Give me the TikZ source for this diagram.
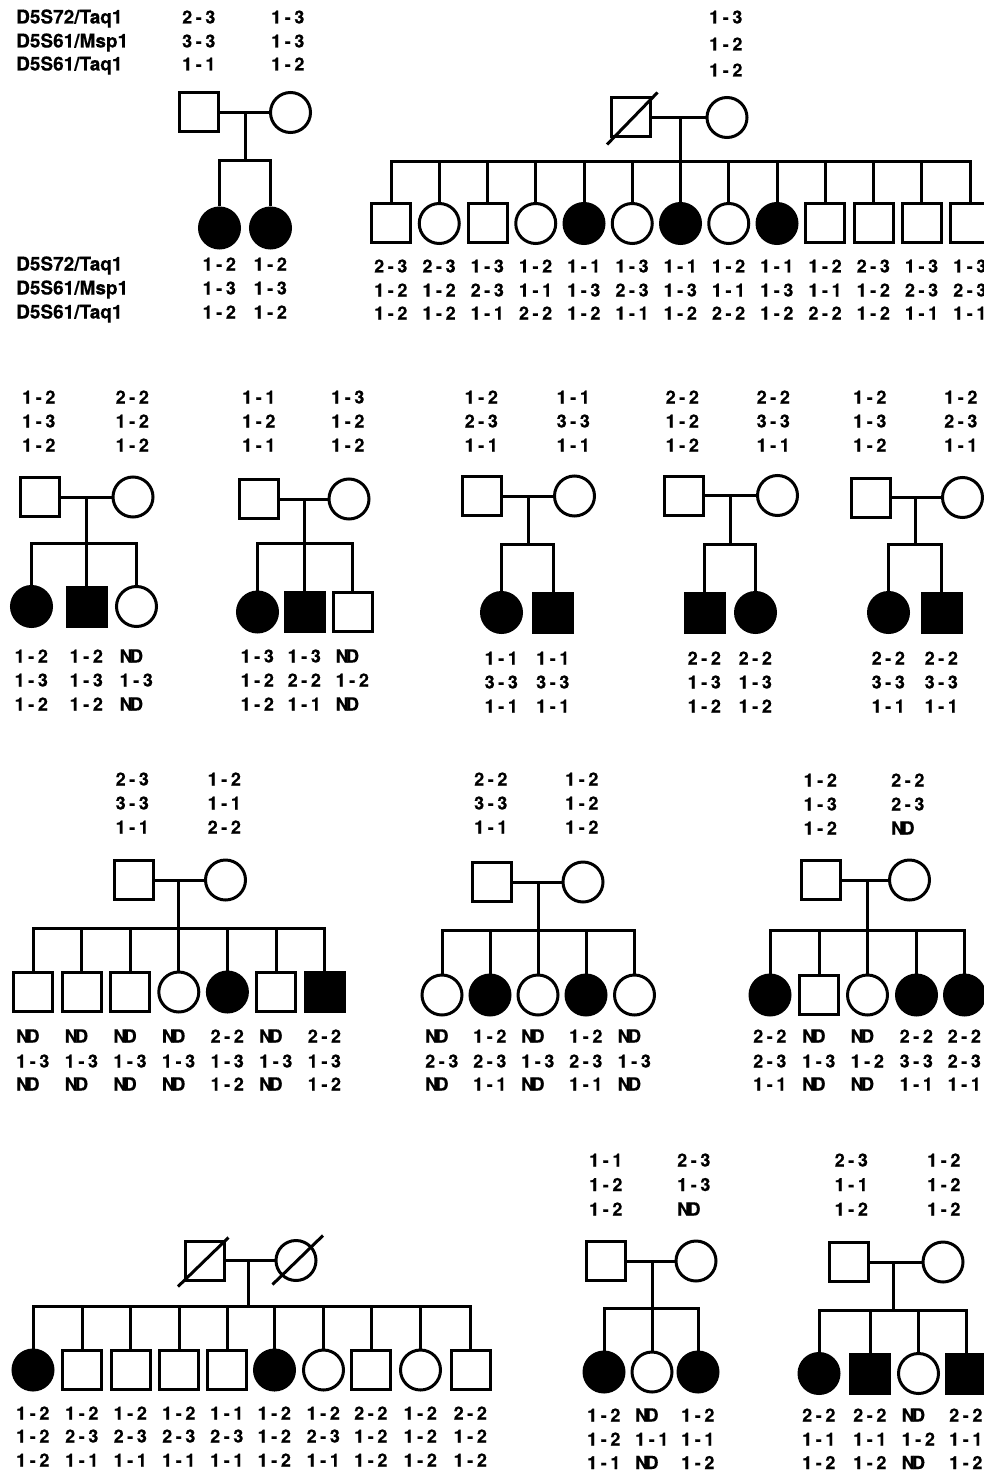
\documentclass[tikz,border=0pt]{standalone}
\usepackage{fontspec}
\setmainfont{TeX Gyre Heros}[BoldFeatures={FakeBold=0.35}]
\usetikzlibrary{calc}
\newcommand\G[2]{#1\hspace{0.2em}-\hspace{0.2em}#2}
\newcommand\ND{N\kern-0.15em D}
\newcommand\lab[8]{%
 \node[lbl] (#1-a) at ({#2-17},{#3+6.5}) {#6};%
 \node[lbl] (#1-b) at ({#2-17},{#4+6.5}) {#7};%
 \node[lbl] (#1-c) at ({#2-17},{#5+6.5}) {#8};}
\begin{document}
\begin{tikzpicture}[x=1pt,y=-1pt,
 ln/.style={line width=3pt},
 sq/.style={rectangle,draw,line width=3pt,minimum size=39pt,inner sep=0pt},
 sqf/.style={sq,fill=black},
 ci/.style={circle,draw,line width=3pt,minimum size=40pt,inner sep=0pt},
 cif/.style={ci,fill=black},
 lbl/.style={anchor=base west,inner sep=0pt,font=\fontsize{18}{20}\selectfont\bfseries},
 mk/.style={anchor=base west,inner sep=0pt,font=\fontsize{19}{21}\selectfont\bfseries}]
\useasboundingbox (0,0) rectangle (984,1471);
\fill[white] (0,0) rectangle (984,1471);
\clip (0,0) rectangle (984,1471);

% marker names
\node[mk] (k1) at (16,23.5) {D5S72/Taq1};
\node[mk] (k2) at (16,47.5) {D5S61/Msp1};
\node[mk] (k3) at (16,70.5) {D5S61/Taq1};
\node[mk] (k4) at (16,270.5) {D5S72/Taq1};
\node[mk] (k5) at (16,294.5) {D5S61/Msp1};
\node[mk] (k6) at (16,318.5) {D5S61/Taq1};

% ---------- TL family
\node[sq] (TLf) at (199,112.5) {};
\node[ci] (TLm) at (290.5,112.5) {};
\draw[ln] (TLf.east) -- (TLm.west);
\lab{TLf}{199}{17}{41}{64}{\G23}{\G33}{\G11}
\lab{TLm}{288}{17}{41}{64}{\G13}{\G13}{\G12}
\coordinate (TLd) at (245,112.5);
\coordinate (TLs) at (245,161);
\draw[ln] (TLd) -- (TLs);
\foreach \x/\t/\a/\b/\c [count=\i] in {219.5/cif/\G12/\G13/\G12, 270.5/cif/\G12/\G13/\G12}{
 \node[\t] (TL\i) at (\x,228) {};
 \draw[ln] (TL\i.north) -- (TL\i.north |- TLs);
 \lab{TL\i}{\x}{264}{288}{312}{\a}{\b}{\c}
}
\draw[ln] (TL1.north) |- (TLs) -| (TL2.north);

% ---------- TR family
\node[sq] (TRf) at (630.5,117.5) {};
\node[ci] (TRm) at (727,117.5) {};
\draw[ln] (TRf.east) -- (TRm.west);
\draw[ln] ([shift={(-2.5,6)}]TRf.south west) -- ([shift={(6,-4)}]TRf.north east);
\lab{TRm}{726}{17}{44}{70}{\G13}{\G12}{\G12}
\foreach \x/\t/\a/\b/\c [count=\i] in {
 391/sq/\G23/\G12/\G12, 439.25/ci/\G23/\G12/\G12, 487.5/sq/\G13/\G23/\G11,
 535.75/ci/\G12/\G11/\G22, 584/cif/\G11/\G13/\G12, 632.25/ci/\G13/\G23/\G11,
 680.5/cif/\G11/\G13/\G12, 728.75/ci/\G12/\G11/\G22, 777/cif/\G11/\G13/\G12,
 825.25/sq/\G12/\G11/\G22, 873.5/sq/\G23/\G12/\G12, 921.75/sq/\G13/\G23/\G11,
 970/sq/\G13/\G23/\G11}{
 \node[\t] (TR\i) at (\x,223.5) {};
 \draw[ln] (TR\i.north) -- (TR\i.north |- 0,162);
 \lab{TR\i}{\x}{266}{290}{313}{\a}{\b}{\c}
}
\coordinate (TRd) at (TR7.north |- TRf.east);
\coordinate (TRs) at (TR7.north |- 0,162);
\draw[ln] (TRd) -- (TRs);
\draw[ln] (TR1.north) |- (TRs) -| (TR13.north);

% ---------- Row 2
% A
\node[sq] (Af) at (39.5,497) {};
\node[ci] (Am) at (133,497) {};
\draw[ln] (Af.east) -- (Am.west);
\lab{Af}{39}{397}{421}{445}{\G12}{\G13}{\G12}
\lab{Am}{132.5}{397}{421}{445}{\G22}{\G12}{\G12}
\foreach \x/\t/\a/\b/\c [count=\i] in {31.5/cif/\G12/\G13/\G12, 86.5/sqf/\G12/\G13/\G12, 136.5/ci/\ND/\G13/\ND}{
 \node[\t] (A\i) at (\x,606.5) {};
 \draw[ln] (A\i.north) -- (A\i.north |- 0,543);
 \lab{A\i}{\x}{656}{680}{704}{\a}{\b}{\c}
}
\coordinate (Ad) at (A2.north |- Af.east);
\coordinate (As) at (A2.north |- 0,543);
\draw[ln] (Ad) -- (As);
\draw[ln] (A1.north) |- (As) -| (A3.north);
% B
\node[sq] (Bf) at (259,499) {};
\node[ci] (Bm) at (349,499) {};
\draw[ln] (Bf.east) -- (Bm.west);
\lab{Bf}{259}{397}{421}{445}{\G11}{\G12}{\G11}
\lab{Bm}{348}{397}{421}{445}{\G13}{\G12}{\G12}
\foreach \x/\t/\a/\b/\c [count=\i] in {257.5/cif/\G13/\G12/\G12, 304.5/sqf/\G13/\G22/\G11, 352.5/sq/\ND/\G12/\ND}{
 \node[\t] (B\i) at (\x,612) {};
 \draw[ln] (B\i.north) -- (B\i.north |- 0,543);
 \lab{B\i}{\x}{656}{680}{704}{\a}{\b}{\c}
}
\coordinate (Bd) at (B2.north |- Bf.east);
\coordinate (Bs) at (B2.north |- 0,543);
\draw[ln] (Bd) -- (Bs);
\draw[ln] (B1.north) |- (Bs) -| (B3.north);
% C
\node[sq] (Cf) at (482,496) {};
\node[ci] (Cm) at (574.5,496) {};
\draw[ln] (Cf.east) -- (Cm.west);
\lab{Cf}{481.5}{397}{421}{445}{\G12}{\G23}{\G11}
\lab{Cm}{573.5}{397}{421}{445}{\G11}{\G33}{\G11}
\coordinate (Cd) at (528,496);
\coordinate (Cs) at (528,544);
\draw[ln] (Cd) -- (Cs);
\foreach \x/\t/\a/\b/\c [count=\i] in {501.5/cif/\G11/\G33/\G11, 553/sqf/\G11/\G33/\G11}{
 \node[\t] (C\i) at (\x,612.5) {};
 \lab{C\i}{\x}{658}{682}{706}{\a}{\b}{\c}
}
\draw[ln] (C1.north) |- (Cs) -| (C2.north);
% D
\node[sq] (Df) at (684,495.5) {};
\node[ci] (Dm) at (777.5,495.5) {};
\draw[ln] (Df.east) -- (Dm.west);
\lab{Df}{682.5}{397}{421}{445}{\G22}{\G12}{\G12}
\lab{Dm}{773.5}{397}{421}{445}{\G22}{\G33}{\G11}
\coordinate (Dd) at (730,495.5);
\coordinate (Ds) at (730,544);
\draw[ln] (Dd) -- (Ds);
\foreach \x/\t/\a/\b/\c [count=\i] in {704.5/sqf/\G22/\G13/\G12, 755.5/cif/\G22/\G13/\G12}{
 \node[\t] (D\i) at (\x,612.5) {};
 \lab{D\i}{\x}{658}{682}{706}{\a}{\b}{\c}
}
\draw[ln] (D1.north) |- (Ds) -| (D2.north);
% E
\node[sq] (Ef) at (871,497.5) {};
\node[ci] (Em) at (962.5,497.5) {};
\draw[ln] (Ef.east) -- (Em.west);
\lab{Ef}{870}{397}{421}{445}{\G12}{\G13}{\G12}
\lab{Em}{961}{397}{421}{445}{\G12}{\G23}{\G11}
\coordinate (Ed) at (915,497.5);
\coordinate (Es) at (915,544);
\draw[ln] (Ed) -- (Es);
\foreach \x/\t/\a/\b/\c [count=\i] in {888.5/cif/\G22/\G33/\G11, 941.5/sqf/\G22/\G33/\G11}{
 \node[\t] (E\i) at (\x,612.5) {};
 \lab{E\i}{\x}{658}{682}{706}{\a}{\b}{\c}
}
\draw[ln] (E1.north) |- (Es) -| (E2.north);

% ---------- Row 3
% F
\node[sq] (Ff) at (134,880) {};
\node[ci] (Fm) at (225.5,880) {};
\draw[ln] (Ff.east) -- (Fm.west);
\lab{Ff}{132.5}{779}{803}{827}{\G23}{\G33}{\G11}
\lab{Fm}{224.5}{779}{803}{827}{\G12}{\G11}{\G22}
\foreach \x/\t/\a/\b/\c [count=\i] in {
 33/sq/\ND/\G13/\ND, 81.6/sq/\ND/\G13/\ND, 130.2/sq/\ND/\G13/\ND, 178.8/ci/\ND/\G13/\ND,
 227.4/cif/\G22/\G13/\G12, 276/sq/\ND/\G13/\ND, 324.6/sqf/\G22/\G13/\G12}{
 \node[\t] (F\i) at (\x,992) {};
 \draw[ln] (F\i.north) -- (F\i.north |- 0,928);
 \lab{F\i}{\x}{1036}{1061}{1084}{\a}{\b}{\c}
}
\coordinate (Fd) at (F4.north |- Ff.east);
\coordinate (Fs) at (F4.north |- 0,928);
\draw[ln] (Fd) -- (Fs);
\draw[ln] (F1.north) |- (Fs) -| (F7.north);
% G
\node[sq] (Gf) at (492,882) {};
\node[ci] (Gm) at (583,882) {};
\draw[ln] (Gf.east) -- (Gm.west);
\lab{Gf}{491}{779}{803}{827}{\G22}{\G33}{\G11}
\lab{Gm}{582}{779}{803}{827}{\G12}{\G12}{\G12}
\foreach \x/\t/\a/\b/\c [count=\i] in {
 442/ci/\ND/\G23/\ND, 490/cif/\G12/\G23/\G11, 538/ci/\ND/\G13/\ND,
 586/cif/\G12/\G23/\G11, 634.5/ci/\ND/\G13/\ND}{
 \node[\t] (G\i) at (\x,995) {};
 \draw[ln] (G\i.north) -- (G\i.north |- 0,930);
 \lab{G\i}{\x}{1036}{1061}{1084}{\a}{\b}{\c}
}
\coordinate (Gd) at (G3.north |- Gf.east);
\coordinate (Gs) at (G3.north |- 0,930);
\draw[ln] (Gd) -- (Gs);
\draw[ln] (G1.north) |- (Gs) -| (G5.north);
% H
\node[sq] (Hf) at (820.5,880) {};
\node[ci] (Hm) at (909.5,880) {};
\draw[ln] (Hf.east) -- (Hm.west);
\lab{Hf}{820.5}{780}{804}{828}{\G12}{\G13}{\G12}
\lab{Hm}{908}{780}{804}{828}{\G22}{\G23}{\ND}
\foreach \x/\t/\a/\b/\c [count=\i] in {
 770/cif/\G22/\G23/\G11, 819/sq/\ND/\G13/\ND, 867.5/ci/\ND/\G12/\ND,
 916.5/cif/\G22/\G33/\G11, 964.5/cif/\G22/\G23/\G11}{
 \node[\t] (H\i) at (\x,995) {};
 \draw[ln] (H\i.north) -- (H\i.north |- 0,930);
 \lab{H\i}{\x}{1036}{1061}{1084}{\a}{\b}{\c}
}
\coordinate (Hd) at (H3.north |- Hf.east);
\coordinate (Hs) at (H3.north |- 0,930);
\draw[ln] (Hd) -- (Hs);
\draw[ln] (H1.north) |- (Hs) -| (H5.north);

% ---------- Row 4
% I
\node[sq] (If) at (204.5,1260.5) {};
\node[ci] (Im) at (296,1260.5) {};
\draw[ln] (If.east) -- (Im.west);
\draw[ln] ([shift={(-5.5,5)}]If.south west) -- ([shift={(3,-2)}]If.north east);
\draw[ln] ([shift={(-23.5,24)}]Im.center) -- ([shift={(27,-25)}]Im.center);
\coordinate (Id) at (248,1260.5);
\coordinate (Is) at (248,1306);
\draw[ln] (Id) -- (Is);
\foreach \x/\t/\a/\b/\c [count=\i] in {
 33/cif/\G12/\G12/\G12, 82/sq/\G12/\G23/\G11, 130.5/sq/\G12/\G23/\G11,
 179/sq/\G12/\G23/\G11, 227/sq/\G11/\G23/\G11, 274.5/cif/\G12/\G12/\G12,
 323.5/ci/\G12/\G23/\G11, 371/sq/\G22/\G12/\G12, 420.5/ci/\G12/\G12/\G12,
 470.5/sq/\G22/\G12/\G12}{
 \node[\t] (I\i) at (\x,1370) {};
 \draw[ln] (I\i.north) -- (I\i.north |- Is);
 \lab{I\i}{\x}{1413}{1436}{1460}{\a}{\b}{\c}
}
\draw[ln] (I1.north) |- (Is) -| (I10.north);
% J
\node[sq] (Jf) at (606,1261) {};
\node[ci] (Jm) at (696,1261) {};
\draw[ln] (Jf.east) -- (Jm.west);
\lab{Jf}{606}{1160}{1184.5}{1209}{\G11}{\G12}{\G12}
\lab{Jm}{694}{1160}{1184.5}{1209}{\G23}{\G13}{\ND}
\foreach \x/\t/\a/\b/\c [count=\i] in {604/cif/\G12/\G12/\G11, 652/ci/\ND/\G11/\ND, 698/cif/\G12/\G11/\G12}{
 \node[\t] (J\i) at (\x,1372) {};
 \draw[ln] (J\i.north) -- (J\i.north |- 0,1308);
 \lab{J\i}{\x}{1415}{1439}{1462.5}{\a}{\b}{\c}
}
\coordinate (Jd) at (J2.north |- Jf.east);
\coordinate (Js) at (J2.north |- 0,1308);
\draw[ln] (Jd) -- (Js);
\draw[ln] (J1.north) |- (Js) -| (J3.north);
% K
\node[sq] (Kf) at (848.5,1262) {};
\node[ci] (Km) at (943,1262) {};
\draw[ln] (Kf.east) -- (Km.west);
\lab{Kf}{851.5}{1160}{1184.5}{1209}{\G23}{\G11}{\G12}
\lab{Km}{944}{1160}{1184.5}{1209}{\G12}{\G12}{\G12}
\coordinate (Kd) at (893,1262);
\coordinate (Ks) at (893,1310);
\draw[ln] (Kd) -- (Ks);
\foreach \x/\t/\a/\b/\c [count=\i] in {819/cif/\G22/\G11/\G12, 870/sqf/\G22/\G11/\G12, 918.5/ci/\ND/\G12/\ND, 966/sqf/\G22/\G11/\G12}{
 \node[\t] (K\i) at (\x,1373.5) {};
 \draw[ln] (K\i.north) -- (K\i.north |- Ks);
 \lab{K\i}{\x}{1415}{1439}{1462.5}{\a}{\b}{\c}
}
\draw[ln] (K1.north) |- (Ks) -| (K4.north);
\end{tikzpicture}
\end{document}
